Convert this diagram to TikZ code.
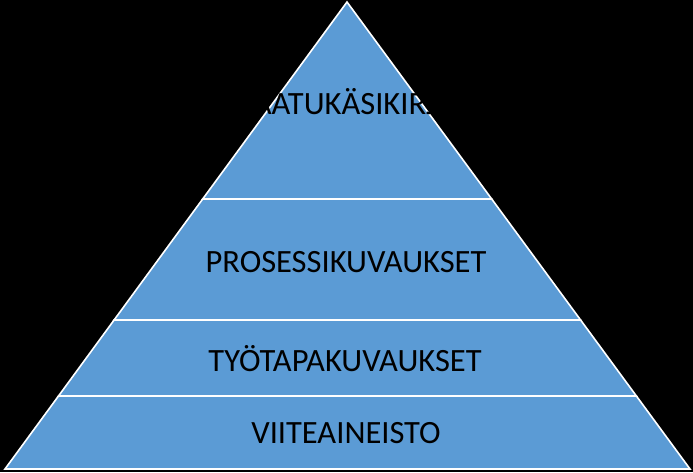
\documentclass[tikz,border=0pt]{standalone}
\usepackage{fontspec}
\setmainfont{Carlito}
\usepackage{tikz}
\definecolor{tierblue}{RGB}{91,155,213}

\begin{document}
\begin{tikzpicture}[x=1pt,y=-1pt,
    tier/.style={fill=tierblue,draw=white,line width=1.6pt,line join=miter},
    tiertext/.style={text=black,font=\fontsize{32.5}{36}\selectfont,inner sep=0pt}]
        \fill [black] (0,0) rectangle (693,472);
        \useasboundingbox (0,0) rectangle (693,472);
        % corners of the pyramid
        \coordinate (apex) at (347,2);
        \coordinate (l1) at (202.7,199); \coordinate (r1) at (491.7,199);
        \coordinate (l2) at (114.1,320); \coordinate (r2) at (580.6,320);
        \coordinate (l3) at (58.5,396);  \coordinate (r3) at (636.4,396);
        \coordinate (l4) at (5,469);     \coordinate (r4) at (690,469);
        \draw [tier] (apex)--(r1)--(l1)--cycle;
        \draw [tier] (l1)--(r1)--(r2)--(l2)--cycle;
        \draw [tier] (l2)--(r2)--(r3)--(l3)--cycle;
        \draw [tier] (l3)--(r3)--(r4)--(l4)--cycle;
        \node [tiertext] (t1) at (347,102) {LAATUKÄSIKIRJA};
        \node [tiertext] (t2) at (346,262) {PROSESSIKUVAUKSET};
        \node [tiertext] (t3) at (345,359) {TYÖTAPAKUVAUKSET};
        \node [tiertext] (t4) at (346,433) {VIITEAINEISTO};
      \end{tikzpicture}
\end{document}
